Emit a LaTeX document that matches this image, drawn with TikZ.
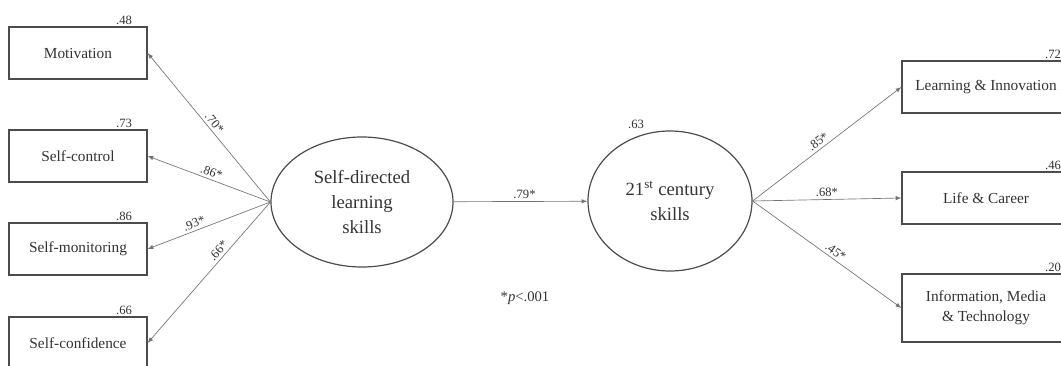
\documentclass[tikz,border=0pt]{standalone}
\usepackage{fontspec}
\setmainfont{Liberation Serif}
\usetikzlibrary{shapes.geometric}
\tikzset{
  obs/.style={draw=black!70, line width=0.9pt, inner sep=2pt, align=center,
    font=\fontsize{11.5}{15}\selectfont, text=black!80},
  lat/.style={ellipse, draw=black!70, line width=0.9pt, inner sep=0pt, align=center,
    font=\fontsize{14}{18.75}\selectfont, text=black!80},
  link/.style={-latex, draw=black!55, line width=0.5pt},
  coef/.style={font=\fontsize{9.5}{10}\selectfont, text=black!80, sloped, above, inner sep=2pt},
  rsq/.style={font=\fontsize{9.5}{10}\selectfont, text=black!80, anchor=south east, inner sep=1pt}
}

\begin{document}
\begin{tikzpicture}[x=0.75pt,y=-0.75pt]
  \useasboundingbox (0,0) rectangle (1061,365);
  % latent variables
  \node[lat, minimum width=136.5pt, minimum height=97.5pt] (sdl) at (362,202) {Self-directed\\learning\\skills};
  \node[lat, minimum width=123pt, minimum height=105pt] (tcs) at (670,201) {21\textsuperscript{st} century\\skills};
  \node[rsq, anchor=south] (tcs r) at ([xshift=-25.5pt]tcs.north) {.63};
  \draw[link] (sdl) -- (tcs) node[coef, pos=0.53] (sdl c) {.79*};
  % left indicators
  \foreach \y/\n/\t/\r/\c/\p in {53/mot/Motivation/.48/.70*/0.5, 156/ctl/Self-control/.73/.86*/0.5,
      249/mon/Self-monitoring/.86/.93*/0.6, 343/cnf/Self-confidence/.66/.66*/0.38}{
    \node[obs, minimum width=103.5pt, minimum height=39pt] (\n) at (78,\y) {\t};
    \node[rsq] (\n r) at ([xshift=-10.5pt]\n.north east) {\r};
    \draw[link] (sdl.west) -- (\n.east) node[coef, pos=\p] (\n c) {\c};
  }
  % right indicators
  \foreach \y/\h/\n/\t/\r/\c/\p in {87/39/lrn/Learning \& Innovation/.72/.85*/0.47,
      198/39/lif/Life \& Career/.46/.68*/0.5, 308/51/imt/{Information, Media\\\& Technology}/.20/.45*/0.53}{
    \node[obs, minimum width=126pt, minimum height=\h pt] (\n) at (986,\y) {\t};
    \node[rsq] (\n r) at ([xshift=-6pt]\n.north east) {\r};
    \draw[link] (tcs.east) -- (\n.west) node[coef, pos=\p] (\n c) {\c};
  }
  \node[font=\fontsize{11}{12}\selectfont, text=black!80] (note) at (525,298) {*\textit{p}<.001};
\end{tikzpicture}
\end{document}
